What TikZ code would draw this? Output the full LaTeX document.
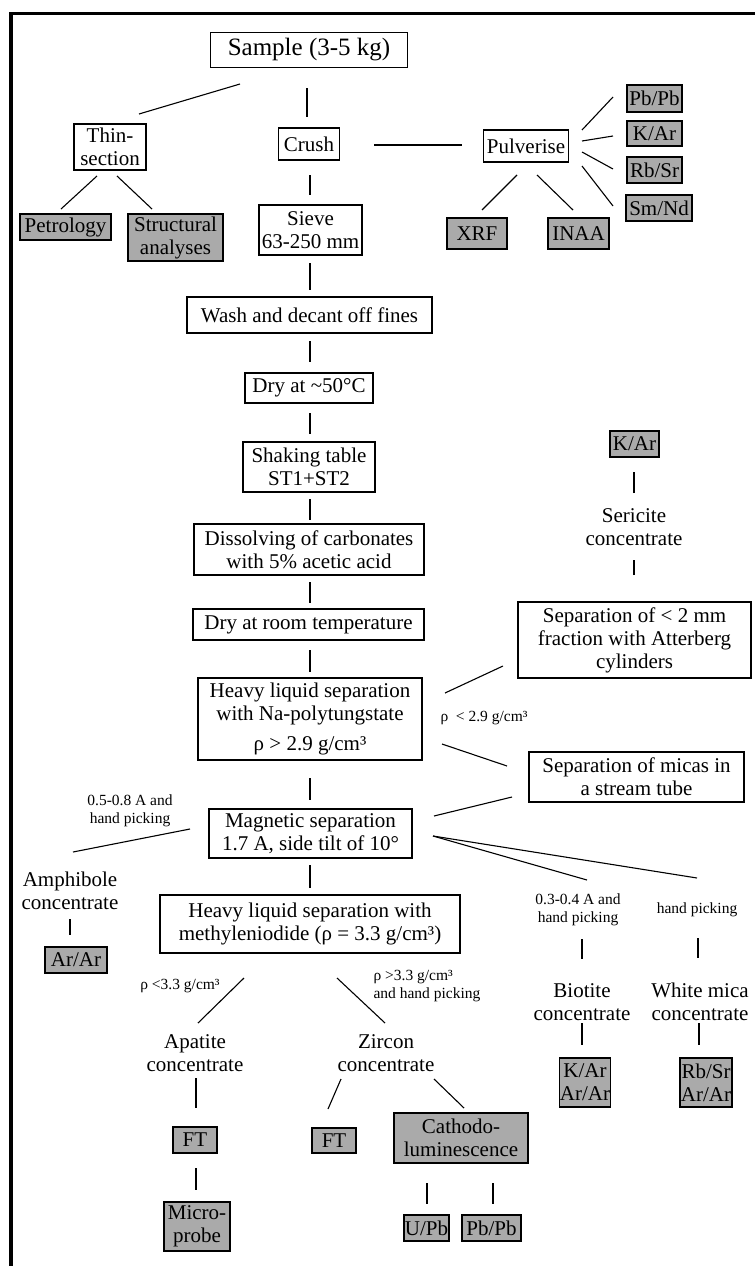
\documentclass[tikz,border=0pt]{standalone}
\usepackage{fontspec}
\setmainfont{Liberation Serif}
\usetikzlibrary{calc}

\definecolor{boxgray}{RGB}{170,170,170}
\newcommand{\mainfs}{\fontsize{21}{23}\selectfont}
\newcommand{\bigfs}{\fontsize{25}{28}\selectfont}
\newcommand{\smallfs}{\fontsize{15.5}{18}\selectfont}

\begin{document}
\begin{tikzpicture}[
    x=1pt, y=-1pt,
    line width=1.1pt,
    wh/.style 2 args={minimum width=#1pt, minimum height=#2pt},
    wbox/.style={draw, fill=white, inner sep=0pt, align=center, font=\mainfs},
    gbox/.style={wbox, fill=boxgray},
    txt/.style={inner sep=0pt, align=center, font=\mainfs},
    note/.style={inner sep=0pt, align=center, font=\smallfs},
]
\useasboundingbox (0,0) rectangle (755,1266);

% frame
\draw[line width=3.5pt] (11,1266) -- (11,13.5) -- (755,13.5);

% top row
\node[wbox, font=\bigfs, wh={197}{35}] (sample) at (309,50) {Sample (3-5 kg)};
\node[wbox, wh={72}{46}] (thin) at (110,147) {Thin-\\section};
\node[wbox, wh={61}{32}] (crush) at (309,144) {Crush};
\node[wbox, wh={85}{32}] (pulv) at (526,146) {Pulverise};
\node[gbox, wh={55}{27}] (pbpb) at (654.5,98.5) {Pb/Pb};
\node[gbox, wh={55}{25}] (karp) at (654.5,133.5) {K/Ar};
\node[gbox, wh={55}{26}] (rbsrp) at (654.5,170) {Rb/Sr};
\node[gbox, wh={66}{26}] (smnd) at (659,208) {Sm/Nd};
\node[gbox, wh={60}{31}] (xrf) at (477,233.5) {XRF};
\node[gbox, wh={61}{31}] (inaa) at (578.5,233.5) {INAA};
\node[gbox, wh={91}{26}] (petro) at (65.5,227) {Petrology};
\node[gbox, wh={95}{47}] (struct) at (175.5,237.5) {Structural\\analyses};

% main column
\node[wbox, wh={103}{50}] (sieve) at (310.5,230) {Sieve\\63-250 mm};
\node[wbox, wh={245}{36}] (wash) at (309.5,315) {Wash and decant off fines};
\node[wbox, wh={128}{30}] (dry50) at (309,388) {Dry at \textasciitilde50°C};
\node[wbox, wh={132}{50}] (shake) at (309,467) {Shaking table\\ST1+ST2};
\node[wbox, wh={230}{51}] (dissolve) at (309,549.5) {Dissolving of carbonates\\with 5\% acetic acid};
\node[wbox, wh={231}{31}] (dryroom) at (308.5,624.5) {Dry at room temperature};
\node[wbox, wh={224}{82}] (heavyna) at (310,719) {Heavy liquid separation\\with Na-polytungstate\\[7pt]ρ > 2.9 g/cm³};
\node[wbox, wh={203}{49}] (magnet) at (310.5,833.5) {Magnetic separation\\1.7 A, side tilt of 10°};
\node[wbox, wh={300}{58}] (heavymi) at (310,924) {Heavy liquid separation with\\methyleniodide (ρ = 3.3 g/cm³)};

% right branch
\node[gbox, wh={49}{26}] (kars) at (634.5,444) {K/Ar};
\node[txt] (sericite) at (634,527) {Sericite\\concentrate};
\node[wbox, wh={233}{76}] (sep2) at (634.5,640) {Separation of < 2 mm\\fraction with Atterberg\\cylinders};
\node[note] (rholt) at (484,718) {ρ \ < 2.9 g/cm³};
\node[wbox, wh={215}{50}] (micas) at (636.5,777) {Separation of micas in\\a stream tube};
\node[note] (hpbio) at (578,910) {0.3-0.4 A and\\hand picking};
\node[note] (hpwm) at (697,910) {hand picking};
\node[txt] (biotite) at (582,1002) {Biotite\\concentrate};
\node[txt] (whitemica) at (700,1002) {White mica\\concentrate};
\node[gbox, wh={50}{49}] (karbio) at (585,1082.5) {K/Ar\\Ar/Ar};
\node[gbox, wh={52}{49}] (rbsrwm) at (706,1082.5) {Rb/Sr\\Ar/Ar};

% left branch
\node[note] (hpamph) at (130,811) {0.5-0.8 A and\\hand picking};
\node[txt] (amph) at (70,891) {Amphibole\\concentrate};
\node[gbox, wh={62}{26}] (ararA) at (76,960) {Ar/Ar};

% bottom
\node[note] (rholt33) at (180,986) {ρ <3.3 g/cm³};
\node[note, anchor=west, align=left] (rhogt33) at (373,986) {ρ >3.3 g/cm³\\and hand picking};
\node[txt] (apatite) at (195,1053) {Apatite\\concentrate};
\node[txt] (zircon) at (386,1053) {Zircon\\concentrate};
\node[gbox, wh={44}{26}] (ftap) at (195,1140) {FT};
\node[gbox, wh={66}{49}] (micro) at (197,1226.5) {Micro-\\probe};
\node[gbox, wh={44}{25}] (ftzr) at (334,1140.5) {FT};
\node[gbox, wh={134}{50}] (cl) at (461,1138) {Cathodo-\\luminescence};
\node[gbox, wh={45}{26}] (upb) at (426.5,1228) {U/Pb};
\node[gbox, wh={59}{26}] (pbpbz) at (491.5,1228) {Pb/Pb};

% connectors, top
\draw ([shift={(-69,34)}]sample.center) -- ([shift={(29,-33)}]thin.center);
\draw ([shift={(-2,38)}]sample.center) -- ([shift={(-2,-27)}]crush.center);
\draw ([shift={(-13,29)}]thin.center) -- ([shift={(-4.5,-18)}]petro.center);
\draw ([shift={(7,29)}]thin.center) -- ([shift={(-23.5,-28.5)}]struct.center);
\draw ([shift={(65,1)}]crush.center) -- ([shift={(-64,-1)}]pulv.center);
\draw ([shift={(1,31)}]crush.center) -- ([shift={(-0.5,-35)}]sieve.center);
\draw ([shift={(56,-16)}]pulv.center) -- ([shift={(-41.5,-1.5)}]pbpb.center);
\draw ([shift={(56,-5)}]pulv.center) -- ([shift={(-41.5,2.5)}]karp.center);
\draw ([shift={(56,6)}]pulv.center) -- ([shift={(-41.5,-1)}]rbsrp.center);
\draw ([shift={(56,20)}]pulv.center) -- ([shift={(-46,-2)}]smnd.center);
\draw ([shift={(-9,29)}]pulv.center) -- ([shift={(5,-23.5)}]xrf.center);
\draw ([shift={(11,29)}]pulv.center) -- ([shift={(-5.5,-23.5)}]inaa.center);

% connectors, main column
\draw ([shift={(-0.5,33)}]sieve.center) -- ([shift={(0.5,-25)}]wash.center);
\draw ([shift={(0.5,26)}]wash.center) -- ([shift={(1,-26)}]dry50.center);
\draw ([shift={(1,25)}]dry50.center) -- ([shift={(1,-33)}]shake.center);
\draw ([shift={(1,32)}]shake.center) -- ([shift={(1,-29.5)}]dissolve.center);
\draw ([shift={(1,32.5)}]dissolve.center) -- ([shift={(1.5,-21.5)}]dryroom.center);
\draw ([shift={(1.5,25.5)}]dryroom.center) -- ([shift={(0,-47)}]heavyna.center);
\draw ([shift={(0,59)}]heavyna.center) -- ([shift={(-0.5,-33.5)}]magnet.center);
\draw ([shift={(-0.5,31.5)}]magnet.center) -- ([shift={(0,-36)}]heavymi.center);

% connectors, right
\draw ([shift={(135,-26)}]heavyna.center) -- ([shift={(-131.5,26)}]sep2.center);
\draw ([shift={(132,25)}]heavyna.center) -- ([shift={(-129.5,-11)}]micas.center);
\draw ([shift={(-124.5,20)}]micas.center) -- ([shift={(123.5,-17.5)}]magnet.center);
\draw ([shift={(-0.5,-65)}]sep2.center) -- ([shift={(0,33)}]sericite.center);
\draw ([shift={(0,-34)}]sericite.center) -- ([shift={(-0.5,28)}]kars.center);
\draw ([shift={(122.5,2.5)}]magnet.center) -- ([shift={(9,-30)}]hpbio.center);
\draw ([shift={(122.5,2.5)}]magnet.center) -- ([shift={(0,-32)}]hpwm.center);
\draw ([shift={(4,29)}]hpbio.center) -- ([shift={(0,-43)}]biotite.center);
\draw ([shift={(1,28)}]hpwm.center) -- ([shift={(-2,-44)}]whitemica.center);
\draw ([shift={(0,21)}]biotite.center) -- ([shift={(-3,-37.5)}]karbio.center);
\draw ([shift={(-1,21)}]whitemica.center) -- ([shift={(-7,-37.5)}]rbsrwm.center);

% connectors, left
\draw ([shift={(-120.5,-4.5)}]magnet.center) -- ([shift={(3,-39)}]amph.center);
\draw ([shift={(0,28)}]amph.center) -- ([shift={(-6,-25)}]ararA.center);

% connectors, bottom
\draw ([shift={(-66,54)}]heavymi.center) -- ([shift={(3,-30)}]apatite.center);
\draw ([shift={(27,54)}]heavymi.center) -- ([shift={(-1,-30)}]zircon.center);
\draw ([shift={(1,25)}]apatite.center) -- ([shift={(1,-32)}]ftap.center);
\draw ([shift={(1,28)}]ftap.center) -- ([shift={(-1,-36.5)}]micro.center);
\draw ([shift={(-45,26)}]zircon.center) -- ([shift={(-6,-31.5)}]ftzr.center);
\draw ([shift={(48,26)}]zircon.center) -- ([shift={(3,-30)}]cl.center);
\draw ([shift={(-34,45)}]cl.center) -- ([shift={(0.5,-24)}]upb.center);
\draw ([shift={(32,45)}]cl.center) -- ([shift={(1.5,-24)}]pbpbz.center);

\end{tikzpicture}
\end{document}
